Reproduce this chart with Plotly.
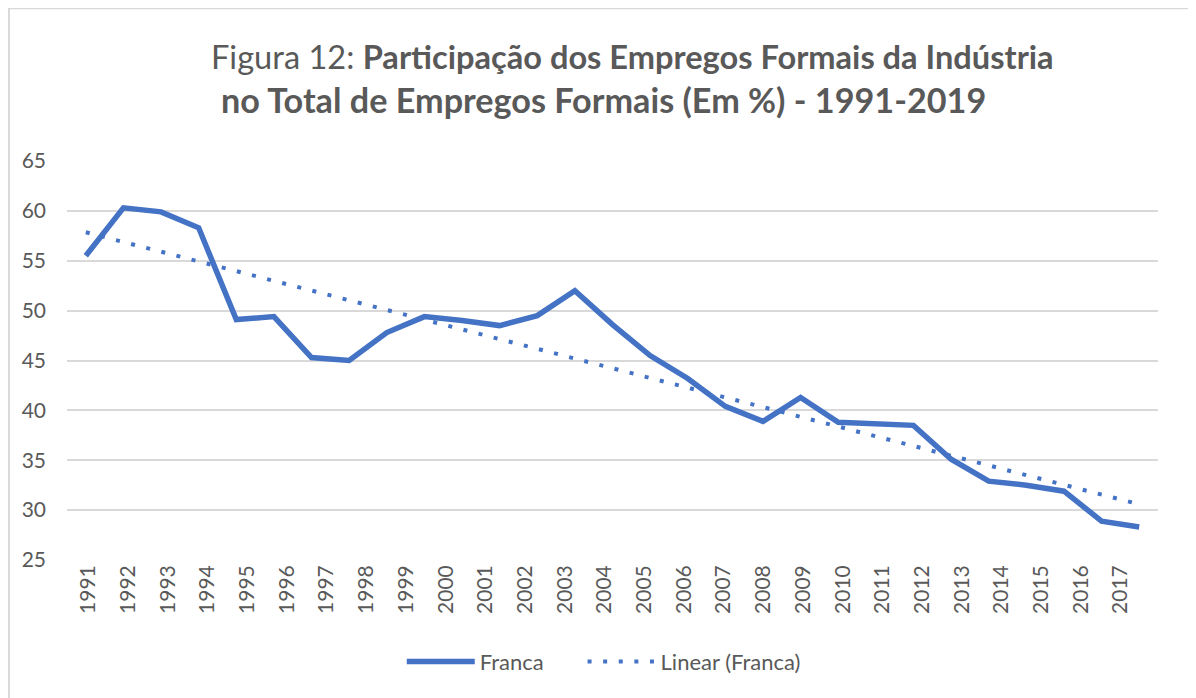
import numpy as np
import plotly.graph_objects as go

BLUE = "#4472C4"; INK = "#595959"; GRID = "#d9d9d9"
FONT = "Lato"

# one value per year, 1991-2019
YEARS = ["1991", "1992", "1993", "1994", "1995", "1996", "1997", "1998", "1999", "2000",
         "2001", "2002", "2003", "2004", "2005", "2006", "2007", "2008", "2009", "2010",
         "2011", "2012", "2013", "2014", "2015", "2016", "2017", "2018", "2019"]
FRANCA = [55.5, 60.3, 59.9, 58.3, 49.1, 49.4, 45.3, 45.0, 47.8, 49.4,
          49.0, 48.5, 49.5, 52.0, 48.6, 45.5, 43.2, 40.4, 38.9, 41.3,
          38.8, 38.6, 38.5, 35.1, 32.9, 32.5, 31.9, 28.9, 28.3]
# the category labels printed under the axis (only up to 2017 in the source)
AXIS_LABELS = ["1991", "1992", "1993", "1994", "1995", "1996", "1997", "1998", "1999",
               "2000", "2001", "2002", "2003", "2004", "2005", "2006", "2007", "2008",
               "2009", "2010", "2011", "2012", "2013", "2014", "2015", "2016", "2017"]

# Excel-style "Linear (Franca)" trendline: least squares on the category index
idx = np.arange(len(FRANCA))
slope, icpt = np.polyfit(idx, FRANCA, 1)
TREND = icpt + slope * idx

PAD = "\u00a0" * 6  # extra room after the first legend entry, like the original

fig = go.Figure()
fig.add_trace(go.Scatter(x=YEARS, y=FRANCA, mode="lines", name="Franca" + PAD,
                         line=dict(color=BLUE, width=5.5), hoverinfo="skip"))
fig.add_trace(go.Scatter(x=YEARS, y=TREND, mode="lines", name="Linear (Franca)",
                         line=dict(color=BLUE, width=4, dash="4px,11.6px"),
                         hoverinfo="skip"))
# carrier for the label axis
fig.add_trace(go.Scatter(x=AXIS_LABELS, y=[None] * len(AXIS_LABELS), xaxis="x2",
                         showlegend=False, hoverinfo="skip", mode="lines"))

fig.add_annotation(xref="paper", yref="paper", x=0.518, y=1.262, showarrow=False,
                   yanchor="middle",
                   text="Figura 12: <b>Participação dos Empregos Formais da Indústria</b>",
                   font=dict(family=FONT, size=32.6, color=INK))
fig.add_annotation(xref="paper", yref="paper", x=0.492, y=1.153, showarrow=False,
                   yanchor="middle",
                   text="<b>no Total de Empregos Formais (Em %) - 1991-2019</b>",
                   font=dict(family=FONT, size=34.2, color=INK))

# chart frame
fig.add_shape(type="rect", xref="paper", yref="paper", x0=-0.0532, x1=1.0339,
              y0=-0.36, y1=1.383, line=dict(color=GRID, width=2), layer="below")

fig.update_layout(
    width=1196, height=698,
    margin=dict(l=59, r=46, t=153, b=146),
    paper_bgcolor="white", plot_bgcolor="white",
    font=dict(family=FONT, color=INK, size=21),
    xaxis=dict(type="category", range=[-0.5, 28.5], showticklabels=False,
               showgrid=False, zeroline=False, showline=False, ticks=""),
    xaxis2=dict(type="category", overlaying="x", side="bottom", anchor="y",
                range=[-0.54, 26.94], tickangle=-90, showgrid=False, zeroline=False,
                showline=False, ticks="", tickfont=dict(size=21, color=INK)),
    yaxis=dict(range=[25, 65], tick0=25, dtick=5, showgrid=True, gridcolor=GRID,
               gridwidth=1.5, zeroline=False, showline=False, ticks="",
               ticklabelstandoff=20, tickfont=dict(size=21, color=INK)),
    legend=dict(orientation="h", x=0.492, xanchor="center", y=-0.255, yanchor="middle",
                font=dict(size=22, color=INK), itemwidth=68),
    showlegend=True,
)

fig.write_html("out.html")
